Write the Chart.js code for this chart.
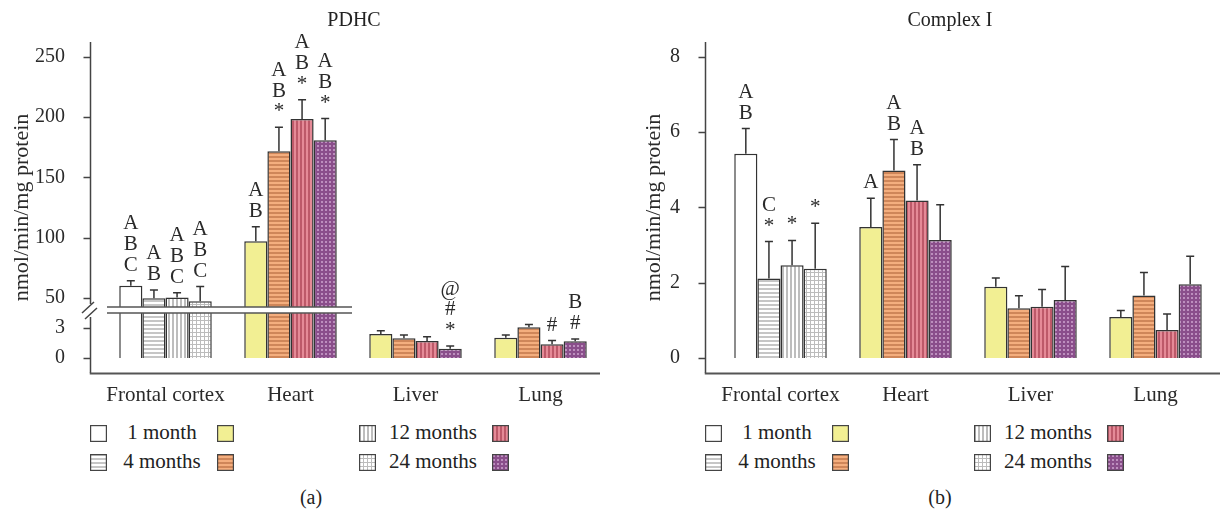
<!DOCTYPE html>
<html>
<head>
<meta charset="utf-8">
<title>PDHC and Complex I activity</title>
<script src="https://cdn.jsdelivr.net/npm/chart.js"></script>
<style>
  body { margin: 0; background: #fff; }
  #page { position: relative; width: 1220px; height: 512px; overflow: hidden;
          font-family: "Liberation Serif", "Times New Roman", serif; color: #222; }
  .panel { position: absolute; top: 0; width: 610px; height: 410px; }
  .txt { position: absolute; white-space: nowrap; transform: translateX(-50%); }
  .sw { position: absolute; }
</style>
</head>
<body>
<div id="page">
  <div class="panel" style="left:0"><canvas id="c1" width="610" height="410"></canvas></div>
  <div class="panel" style="left:610px"><canvas id="c2" width="610" height="410"></canvas></div>
  <div class="txt" style="left:354px;top:9px;font-size:20px;line-height:20px">PDHC</div>
  <div class="txt" style="left:950px;top:9px;font-size:20px;line-height:20px">Complex I</div>
  <div class="txt" style="left:311px;top:487px;font-size:20px;line-height:20px">(a)</div>
  <div class="txt" style="left:940px;top:487px;font-size:20px;line-height:20px">(b)</div>
</div>
<script>
// categories and groups
var organs = ["Frontal cortex", "Heart", "Liver", "Lung"];
var ages = ["1 month", "4 months", "12 months", "24 months"];

// PDHC (nmol/min/mg protein), per age group, one value per organ
var pdhc1m  = [60.2, 97.0, 2.40, 2.03];
var pdhc4m  = [49.8, 171.6, 1.97, 3.07];
var pdhc12m = [50.3, 198.4, 1.70, 1.37];
var pdhc24m = [47.3, 180.8, 0.93, 1.67];
var pdhcErr1m  = [4.1, 12, 0.33, 0.27];
var pdhcErr4m  = [6.8, 20, 0.33, 0.27];
var pdhcErr12m = [4.1, 16, 0.43, 0.37];
var pdhcErr24m = [12.1, 18, 0.27, 0.23];
var pdhcTicks = [0, 3, 50, 100, 150, 200, 250];

// Complex I (nmol/min/mg protein)
var cx1m  = [5.42, 3.48, 1.89, 1.09];
var cx4m  = [2.11, 4.98, 1.32, 1.66];
var cx12m = [2.46, 4.18, 1.36, 0.74];
var cx24m = [2.37, 3.13, 1.54, 1.96];
var cxErr1m  = [0.67, 0.76, 0.23, 0.17];
var cxErr4m  = [0.98, 0.82, 0.33, 0.61];
var cxErr12m = [0.66, 0.95, 0.46, 0.43];
var cxErr24m = [1.21, 0.94, 0.89, 0.74];
var cxTicks = [0, 2, 4, 6, 8];

// significance marks above each bar (top line first)
var pdhcNotes1m  = [["A", "B", "C"], ["A", "B"], [], []];
var pdhcNotes4m  = [["A", "B"], ["A", "B", "*"], [], []];
var pdhcNotes12m = [["A", "B", "C"], ["A", "B", "*"], [], ["#"]];
var pdhcNotes24m = [["A", "B", "C"], ["A", "B", "*"], ["@", "#", "*"], ["B", "#"]];
var cxNotes1m  = [["A", "B"], ["A"], [], []];
var cxNotes4m  = [["C", "*"], ["A", "B"], [], []];
var cxNotes12m = [["*"], ["A", "B"], [], []];
var cxNotes24m = [["*"], [], [], []];

var FONT = '"Liberation Serif", "Times New Roman", serif';
var INK = '#2a2a2a';

function makePattern(bg, fg, kind) {
  var c = document.createElement('canvas');
  c.width = 4; c.height = 4;
  var g = c.getContext('2d');
  g.fillStyle = bg; g.fillRect(0, 0, 4, 4);
  g.fillStyle = fg;
  if (kind === 'h') g.fillRect(0, 0, 4, 2);
  if (kind === 'v') g.fillRect(0, 0, 2, 4);
  if (kind === 'grid') { g.fillRect(0, 0, 4, 1); g.fillRect(0, 0, 1, 4); }
  if (kind === 'box') { g.fillRect(0, 0, 4, 4); g.fillStyle = bg; g.fillRect(1, 1, 2, 2); }
  return g.createPattern(c, 'repeat');
}

// fill for [frontal cortex, other organs] per age group
var fills = [
  ['#ffffff', '#f2ef93'],
  [makePattern('#ffffff', '#c6c6c6', 'h'), makePattern('#f4ae7e', '#cf8659', 'h')],
  [makePattern('#ffffff', '#bdbdbd', 'v'), makePattern('#e58a97', '#bd5969', 'v')],
  [makePattern('#ffffff', '#bcbcbc', 'grid'), makePattern('#bd8fbe', '#8a4e8b', 'box')]
];

function makeDatasets(series) {
  return series.map(function (vals, a) {
    return {
      label: ages[a],
      data: vals,
      backgroundColor: [fills[a][0], fills[a][1], fills[a][1], fills[a][1]],
      borderColor: '#333',
      borderWidth: 1.5,
      categoryPercentage: 0.74,
      barPercentage: 1.0
    };
  });
}

// broken value axis for the PDHC panel
var LOW = [-1.5, 4.8], HIGH = [40, 262.3], SPLIT = 63 / 331;
class BrokenScale extends Chart.LinearScale {
  buildTicks() {
    return pdhcTicks.map(function (v) { return { value: v }; });
  }
  getPixelForValue(v) {
    var h = this.bottom - this.top, f;
    if (v <= LOW[1]) f = (v - LOW[0]) / (LOW[1] - LOW[0]) * SPLIT;
    else f = SPLIT + (v - HIGH[0]) / (HIGH[1] - HIGH[0]) * (1 - SPLIT);
    return this.bottom - f * h;
  }
  getValueForPixel(p) {
    var f = (this.bottom - p) / (this.bottom - this.top);
    if (f <= SPLIT) return LOW[0] + f / SPLIT * (LOW[1] - LOW[0]);
    return HIGH[0] + (f - SPLIT) / (1 - SPLIT) * (HIGH[1] - HIGH[0]);
  }
}
BrokenScale.id = 'broken';
BrokenScale.defaults = Chart.LinearScale.defaults;
Chart.register(BrokenScale);

// error bars, axes lines, axis break and significance marks
function overlay(cfg) {
  return {
    id: 'overlay',
    afterDatasetsDraw: function (chart) {
      var ctx = chart.ctx, ys = chart.scales.y, area = chart.chartArea;
      ctx.save();
      ctx.strokeStyle = '#333';
      ctx.lineWidth = 1.5;
      chart.data.datasets.forEach(function (ds, di) {
        chart.getDatasetMeta(di).data.forEach(function (bar, i) {
          var top = ys.getPixelForValue(ds.data[i] + cfg.errors[di][i]);
          ctx.beginPath();
          ctx.moveTo(bar.x, bar.y);
          ctx.lineTo(bar.x, top);
          ctx.moveTo(bar.x - 4, top);
          ctx.lineTo(bar.x + 4, top);
          ctx.stroke();
        });
      });

      var ax = cfg.axisX;
      if (cfg.brk) {
        var y1 = 307, y2 = 313;
        ctx.fillStyle = '#fff';
        ctx.fillRect(107, y1, 245, y2 - y1);
        ctx.strokeStyle = '#555';
        ctx.lineWidth = 1.4;
        ctx.beginPath();
        ctx.moveTo(107, y1); ctx.lineTo(352, y1);
        ctx.moveTo(107, y2); ctx.lineTo(352, y2);
        ctx.stroke();
      }

      // y axis line and ticks
      ctx.strokeStyle = '#444';
      ctx.lineWidth = 1.5;
      ctx.beginPath();
      if (cfg.brk) {
        ctx.moveTo(ax, area.top); ctx.lineTo(ax, 304);
        ctx.moveTo(ax, 317); ctx.lineTo(ax, area.bottom);
        ctx.moveTo(82, 313); ctx.lineTo(94, 302);
        ctx.moveTo(85, 319); ctx.lineTo(97, 308);
      } else {
        ctx.moveTo(ax, area.top); ctx.lineTo(ax, area.bottom);
      }
      ys.ticks.forEach(function (t) {
        var y = Math.round(ys.getPixelForValue(t.value)) + 0.5;
        ctx.moveTo(ax - 7, y); ctx.lineTo(ax, y);
      });
      ctx.stroke();

      // x axis line
      ctx.strokeStyle = '#555';
      ctx.lineWidth = 2;
      ctx.beginPath();
      ctx.moveTo(ax - 0.75, area.bottom + 0.5);
      ctx.lineTo(cfg.xEnd, area.bottom + 0.5);
      ctx.stroke();

      // significance letters
      ctx.fillStyle = INK;
      ctx.font = '21px ' + FONT;
      ctx.textAlign = 'center';
      ctx.textBaseline = 'alphabetic';
      chart.data.datasets.forEach(function (ds, di) {
        chart.getDatasetMeta(di).data.forEach(function (bar, i) {
          var lines = cfg.notes[di][i];
          var top = ys.getPixelForValue(ds.data[i] + cfg.errors[di][i]);
          lines.forEach(function (s, k) {
            var cy = top - 17 - (lines.length - 1 - k) * 20.7;
            ctx.fillText(s, bar.x, cy + 7);
          });
        });
      });
      ctx.restore();
    }
  };
}

function baseOptions(yScale, yWidth, titlePad, rightPad) {
  return {
    responsive: false,
    animation: false,
    events: [],
    layout: { padding: { top: 42, right: rightPad, left: 0, bottom: 0 } },
    plugins: { legend: { display: false }, tooltip: { enabled: false } },
    scales: {
      x: {
        grid: { display: false },
        border: { display: false },
        ticks: { color: INK, padding: 2, font: { family: FONT, size: 21 } },
        afterFit: function (s) { s.height = 37; s.paddingLeft = 0; s.paddingRight = 0; }
      },
      y: Object.assign({
        grid: { display: false },
        border: { display: false },
        ticks: { color: INK, padding: 30, font: { family: FONT, size: 20 },
                 callback: function (v) { return String(v); } },
        title: { display: true, text: 'nmol/min/mg protein', color: INK,
                 font: { family: FONT, size: 22 }, padding: { top: titlePad, bottom: 0 } },
        afterFit: function (s) { s.width = yWidth; s.paddingTop = 0; s.paddingBottom = 0; }
      }, yScale)
    }
  };
}

new Chart(document.getElementById('c1'), {
  type: 'bar',
  data: { labels: organs, datasets: makeDatasets([pdhc1m, pdhc4m, pdhc12m, pdhc24m]) },
  options: baseOptions({ type: 'broken', min: LOW[0], max: HIGH[1] }, 103, 9, 7),
  plugins: [overlay({
    axisX: 90.5, xEnd: 600, brk: true,
    errors: [pdhcErr1m, pdhcErr4m, pdhcErr12m, pdhcErr24m],
    notes: [pdhcNotes1m, pdhcNotes4m, pdhcNotes12m, pdhcNotes24m]
  })]
});

new Chart(document.getElementById('c2'), {
  type: 'bar',
  data: { labels: organs, datasets: makeDatasets([cx1m, cx4m, cx12m, cx24m]) },
  options: baseOptions({
    type: 'linear', min: -0.4, max: 8.39,
    afterBuildTicks: function (s) { s.ticks = cxTicks.map(function (v) { return { value: v }; }); }
  }, 108, 31, 2),
  plugins: [overlay({
    axisX: 95.5, xEnd: 610, brk: false,
    errors: [cxErr1m, cxErr4m, cxErr12m, cxErr24m],
    notes: [cxNotes1m, cxNotes4m, cxNotes12m, cxNotes24m]
  })]
});

// legend: frontal swatch, label, organ swatch for each age group
var page = document.getElementById('page');
function swatch(x, y, fill) {
  var c = document.createElement('canvas');
  c.width = 17; c.height = 17;
  c.className = 'sw';
  c.style.left = x + 'px'; c.style.top = y + 'px';
  var g = c.getContext('2d');
  g.fillStyle = fill; g.fillRect(0, 0, 17, 17);
  g.strokeStyle = '#444'; g.lineWidth = 1.2;
  g.strokeRect(0.6, 0.6, 15.8, 15.8);
  page.appendChild(c);
}
function label(x, y, text) {
  var d = document.createElement('div');
  d.className = 'txt';
  d.style.left = x + 'px'; d.style.top = y + 'px';
  d.style.fontSize = '21px'; d.style.lineHeight = '21px';
  d.textContent = text;
  page.appendChild(d);
}
[0, 615].forEach(function (ox) {
  ages.forEach(function (age, a) {
    var col = a === 0 || a === 1 ? 0 : 1;
    var row = a === 0 || a === 2 ? 0 : 1;
    var y = row === 0 ? 433 : 462;
    var sx = col === 0 ? 90 : 359, ex = col === 0 ? 217 : 492, tx = col === 0 ? 162 : 433;
    swatch(sx + ox, y - 8, fills[a][0]);
    swatch(ex + ox, y - 8, fills[a][1]);
    label(tx + ox, y - 11, age);
  });
});
</script>
</body>
</html>
